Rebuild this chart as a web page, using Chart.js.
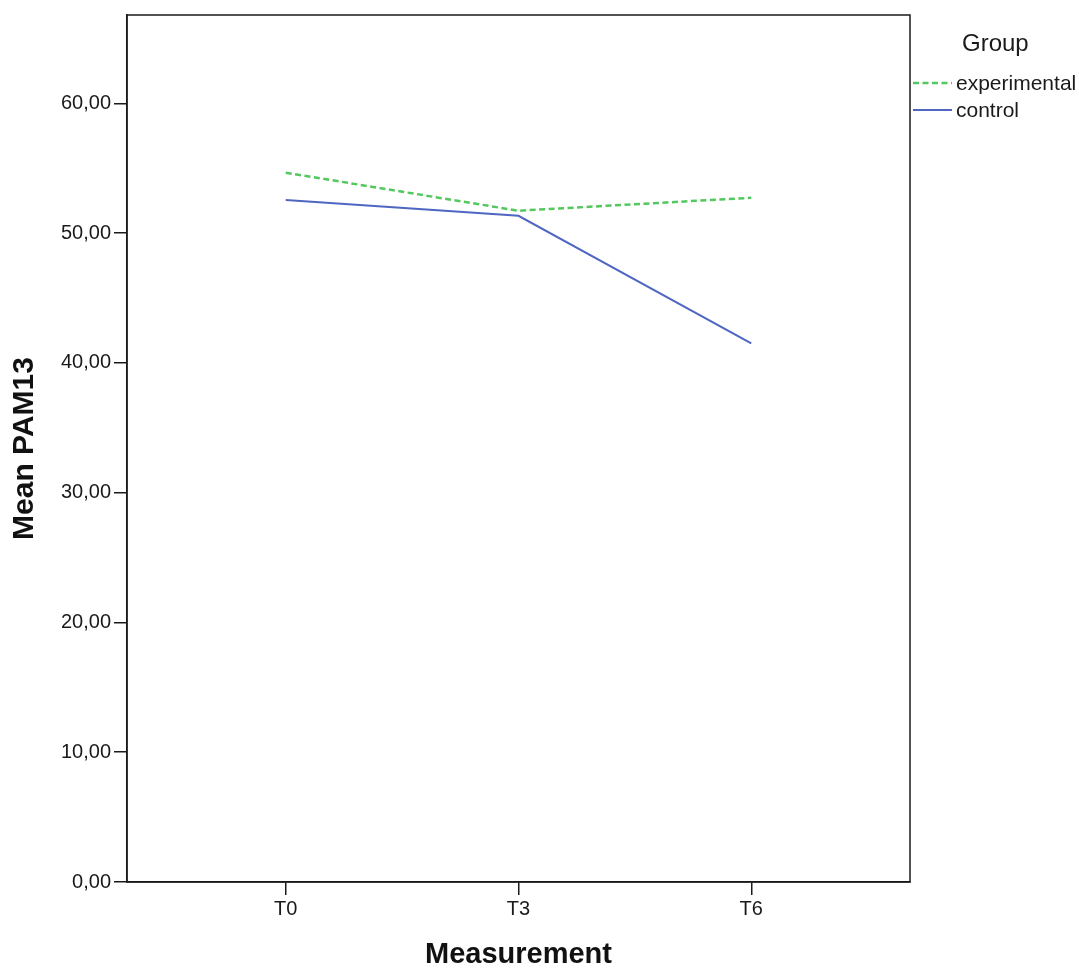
<!DOCTYPE html>
<html>
<head>
<meta charset="utf-8">
<script src="https://cdn.jsdelivr.net/npm/chart.js@4"></script>
<style>
  html, body { margin: 0; padding: 0; background: #fff; }
  #wrap { width: 1079px; height: 969px; }
</style>
</head>
<body>
<div id="wrap"><canvas id="myChart" width="1079" height="969"></canvas></div>
<script>
const ctx = document.getElementById("myChart");

// data
let measurements = ["T0", "T3", "T6"];
let experimental = [54.65, 51.72, 52.72];
let control = [52.54, 51.33, 41.5];
let yTicks = [0, 10, 20, 30, 40, 50, 60];
let legendTitle = "Group";

const toPoints = (vals) => vals.map((v, i) => ({ x: i, y: v }));

// frame round the plot + the legend on the right
const extras = {
  id: "extras",
  afterDraw(chart) {
    const c = chart.ctx;
    const a = chart.chartArea;
    c.save();
    c.strokeStyle = "#1a1a1a";
    c.lineWidth = 1.5;
    c.strokeRect(a.left, a.top, a.right - a.left, a.bottom - a.top);

    c.fillStyle = "#1a1a1a";
    c.textBaseline = "middle";
    c.font = "24px 'Liberation Sans', Arial, sans-serif";
    c.fillText(legendTitle, 962, 44);

    c.font = "21px 'Liberation Sans', Arial, sans-serif";
    chart.data.datasets.forEach((ds, i) => {
      const y = 83 + i * 27;
      c.strokeStyle = ds.borderColor;
      c.lineWidth = ds.borderWidth;
      c.setLineDash(ds.borderDash || []);
      c.beginPath();
      c.moveTo(913, y);
      c.lineTo(952, y);
      c.stroke();
      c.setLineDash([]);
      c.fillText(ds.label, 956, y + 1);
    });
    c.restore();
  },
};

new Chart(ctx, {
  type: "line",
  data: {
    datasets: [
      {
        label: "experimental",
        data: toPoints(experimental),
        borderColor: "#52c85e",
        borderWidth: 2.5,
        borderDash: [6, 3.5],
        pointRadius: 0,
        tension: 0,
      },
      {
        label: "control",
        data: toPoints(control),
        borderColor: "#4f66c2",
        borderWidth: 2,
        pointRadius: 0,
        tension: 0,
      },
    ],
  },
  options: {
    responsive: false,
    animation: false,
    layout: { padding: { left: 0, right: 169, top: 15, bottom: 0 } },
    plugins: {
      legend: { display: false },
      tooltip: { enabled: false },
    },
    scales: {
      x: {
        type: "linear",
        min: -0.682,
        max: 2.682,
        afterBuildTicks: (scale) => {
          scale.ticks = measurements.map((m, i) => ({ value: i }));
        },
        afterFit: (scale) => { scale.height = 87; },
        grid: {
          drawOnChartArea: false,
          color: "#1a1a1a",
          tickLength: 13,
          lineWidth: 1.5,
        },
        border: { color: "#1a1a1a", width: 1.5 },
        ticks: {
          padding: 2,
          color: "#1a1a1a",
          font: { family: "'Liberation Sans', Arial, sans-serif", size: 20 },
          maxRotation: 0,
          callback: (v) => measurements[v],
        },
        title: {
          display: true,
          text: "Measurement",
          color: "#111",
          font: { family: "'Liberation Sans', Arial, sans-serif", size: 29, weight: "bold", lineHeight: 1 },
          padding: { top: 0, bottom: 0 },
        },
      },
      y: {
        min: 0,
        max: 66.8,
        afterBuildTicks: (scale) => {
          scale.ticks = yTicks.map((v) => ({ value: v }));
        },
        afterFit: (scale) => { scale.width = 127; },
        grid: {
          drawOnChartArea: false,
          color: "#1a1a1a",
          tickLength: 13,
          lineWidth: 1.5,
        },
        border: { color: "#1a1a1a", width: 1.5 },
        ticks: {
          padding: 3,
          color: "#1a1a1a",
          font: { family: "'Liberation Sans', Arial, sans-serif", size: 20 },
          callback: (v) => v.toFixed(2).replace(".", ","),
        },
        title: {
          display: true,
          text: "Mean PAM13",
          color: "#111",
          font: { family: "'Liberation Sans', Arial, sans-serif", size: 30, weight: "bold", lineHeight: 1 },
          padding: { top: 10, bottom: 0 },
        },
      },
    },
  },
  plugins: [extras],
});
</script>
</body>
</html>
